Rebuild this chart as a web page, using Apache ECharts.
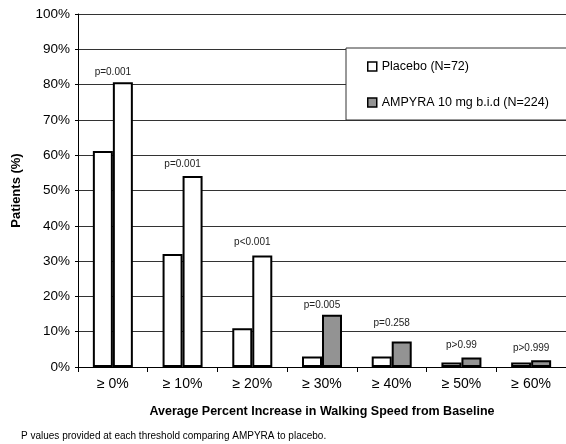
<!DOCTYPE html>
<html><head><meta charset="utf-8">
<script src="https://cdn.jsdelivr.net/npm/echarts@6/dist/echarts.min.js"></script>
<style>html,body{margin:0;padding:0;background:#fff}#c{width:566px;height:444px}</style>
</head><body><div id="c"></div>
<script>
const categories = ['≥ 0%', '≥ 10%', '≥ 20%', '≥ 30%', '≥ 40%', '≥ 50%', '≥ 60%'];
const placebo = [61.2, 32.0, 11.0, 3.0, 3.0, 1.3, 1.3];
const ampyra = [80.7, 54.1, 31.6, 14.8, 7.2, 2.7, 1.9];
const pValues = ['p=0.001', 'p=0.001', 'p<0.001', 'p=0.005', 'p=0.258', 'p>0.99', 'p>0.999'];
const labelLift = [0, -2, -3, 0, -8, -2, -2];
const ampyraWhite = [true, true, true, false, false, false, false];
const yTicks = [0, 10, 20, 30, 40, 50, 60, 70, 80, 90, 100];

const FONT = 'Liberation Sans, Arial, sans-serif';
const chart = echarts.init(document.getElementById('c'), null, {renderer: 'canvas'});
chart.setOption({
  animation: false,
  backgroundColor: '#fff',
  grid: {left: 78, right: -2, top: 14, bottom: 77, containLabel: false},
  legend: {
    orient: 'vertical',
    left: 346, top: 48,
    padding: [12, 40, 11, 21],
    itemGap: 23,
    itemWidth: 9, itemHeight: 9,
    icon: 'rect',
    backgroundColor: '#fff',
    borderColor: '#333', borderWidth: 1,
    textStyle: {fontFamily: FONT, fontSize: 12.5, color: '#000'},
    itemStyle: {borderColor: '#000', borderWidth: 1.5},
    data: ['Placebo (N=72)', 'AMPYRA 10 mg b.i.d (N=224)']
  },
  xAxis: {
    type: 'category',
    data: categories,
    name: 'Average Percent Increase in Walking Speed from Baseline',
    nameLocation: 'middle', nameGap: 38,
    nameTextStyle: {fontFamily: FONT, fontSize: 12.5, fontWeight: 'bold', color: '#000'},
    axisLine: {lineStyle: {color: '#000', width: 1}},
    axisTick: {show: true, length: 5, lineStyle: {color: '#000'}},
    axisLabel: {fontFamily: FONT, fontSize: 14, color: '#000', margin: 10},
    splitLine: {show: false}
  },
  yAxis: {
    type: 'value', min: 0, max: 100, interval: 10,
    name: 'Patients (%)',
    nameLocation: 'middle', nameGap: 55, nameRotate: 90,
    nameTextStyle: {fontFamily: FONT, fontSize: 13, fontWeight: 'bold', color: '#000'},
    axisLine: {show: true, lineStyle: {color: '#000', width: 1}},
    axisTick: {show: true, length: 3, lineStyle: {color: '#000'}},
    axisLabel: {fontFamily: FONT, fontSize: 13.5, color: '#000', margin: 8,
      formatter: v => (yTicks.includes(v) ? v + '%' : '')},
    splitLine: {show: true, lineStyle: {color: '#333', width: 1}}
  },
  series: [
    {
      name: 'Placebo (N=72)', type: 'bar',
      barWidth: 20, barGap: '0%',
      itemStyle: {color: '#fff', borderColor: '#000', borderWidth: 2},
      data: placebo
    },
    {
      name: 'AMPYRA 10 mg b.i.d (N=224)', type: 'bar',
      barWidth: 20, barGap: '0%',
      itemStyle: {color: '#939393', borderColor: '#000', borderWidth: 2},
      label: {show: true, position: 'top', distance: 5,
        fontFamily: FONT, fontSize: 10, color: '#222'},
      data: ampyra.map((v, i) => ({
        value: v,
        itemStyle: ampyraWhite[i] ? {color: '#fff'} : undefined,
        label: {formatter: pValues[i], offset: [-10, labelLift[i]]}
      }))
    }
  ],
  graphic: [{
    type: 'text', left: 21, top: 431,
    style: {text: 'P values provided at each threshold comparing AMPYRA to placebo.',
      font: '10px ' + FONT, fill: '#000'}
  }]
});
</script></body></html>
